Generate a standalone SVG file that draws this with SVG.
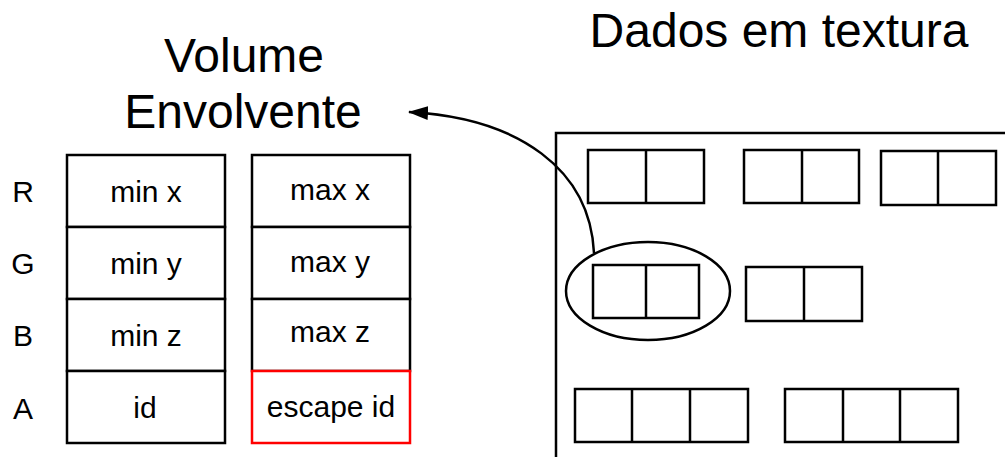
<svg xmlns="http://www.w3.org/2000/svg" width="1005" height="457" viewBox="0 0 1005 457">
<style>
.ln{fill:none;stroke:#000;stroke-width:2.5}
.cell{fill:#fff;stroke:#000;stroke-width:2.5}
.t{font-family:"Liberation Sans",Arial,sans-serif;fill:#000;text-anchor:middle}
.big{font-size:48px}
.sm{font-size:30px}
</style>
<defs>
<marker id="arr" viewBox="0 0 20 14" refX="19" refY="7" markerWidth="20" markerHeight="14" orient="auto" markerUnits="userSpaceOnUse">
<path d="M0,0 L20,7 L0,14 z" fill="#000"/>
</marker>
</defs>
<rect width="1005" height="457" fill="#fff"/>
<g id="titles">
<text class="t big" x="244" y="72">Volume</text>
<text class="t big" x="243" y="128">Envolvente</text>
<text class="t big" x="779" y="47">Dados em textura</text>
</g>
<g id="row-labels">
<text class="t sm" x="23" y="202">R</text>
<text class="t sm" x="23" y="274">G</text>
<text class="t sm" x="23" y="346">B</text>
<text class="t sm" x="23" y="419">A</text>
</g>
<g id="min-table">
<rect class="cell" x="67" y="155" width="158" height="72"/>
<rect class="cell" x="67" y="227" width="158" height="72"/>
<rect class="cell" x="67" y="299" width="158" height="72"/>
<rect class="cell" x="67" y="371" width="158" height="72"/>
<text class="t sm" x="146" y="202">min x</text>
<text class="t sm" x="146" y="274">min y</text>
<text class="t sm" x="146" y="346">min z</text>
<text class="t sm" x="145" y="418">id</text>
</g>
<g id="max-table">
<rect class="cell" x="252" y="155" width="158" height="72"/>
<rect class="cell" x="252" y="227" width="158" height="72"/>
<rect class="cell" x="252" y="299" width="158" height="72"/>
<rect class="cell" x="252" y="371" width="158" height="72" style="stroke:#f00"/>
<text class="t sm" x="330" y="200">max x</text>
<text class="t sm" x="330" y="272">max y</text>
<text class="t sm" x="330" y="342">max z</text>
<text class="t sm" x="331" y="417">escape id</text>
</g>
<g id="texture">
<path class="ln" d="M556,457 V133 H1005"/>
<g id="tex-r1">
<rect class="ln" x="588" y="150" width="116" height="53"/><line class="ln" x1="646" y1="150" x2="646" y2="203"/>
<rect class="ln" x="744" y="150" width="115" height="53"/><line class="ln" x1="802" y1="150" x2="802" y2="203"/>
<rect class="ln" x="881" y="151" width="115" height="54"/><line class="ln" x1="938" y1="151" x2="938" y2="205"/>
</g>
<g id="tex-r2">
<rect class="ln" x="593" y="265" width="106" height="53"/><line class="ln" x1="646" y1="265" x2="646" y2="318"/>
<rect class="ln" x="746" y="267" width="116" height="54"/><line class="ln" x1="804" y1="267" x2="804" y2="321"/>
<ellipse class="ln" cx="648" cy="291" rx="82" ry="49"/>
</g>
<g id="tex-r3">
<rect class="ln" x="575" y="389" width="173" height="53"/><line class="ln" x1="632" y1="389" x2="632" y2="442"/><line class="ln" x1="690" y1="389" x2="690" y2="442"/>
<rect class="ln" x="785" y="389" width="173" height="53"/><line class="ln" x1="843" y1="389" x2="843" y2="442"/><line class="ln" x1="900" y1="389" x2="900" y2="442"/>
</g>
</g>
<g id="connectors">
<path class="ln" d="M594,253 C590,170 520,118 409,112" marker-end="url(#arr)"/>
</g>
</svg>
